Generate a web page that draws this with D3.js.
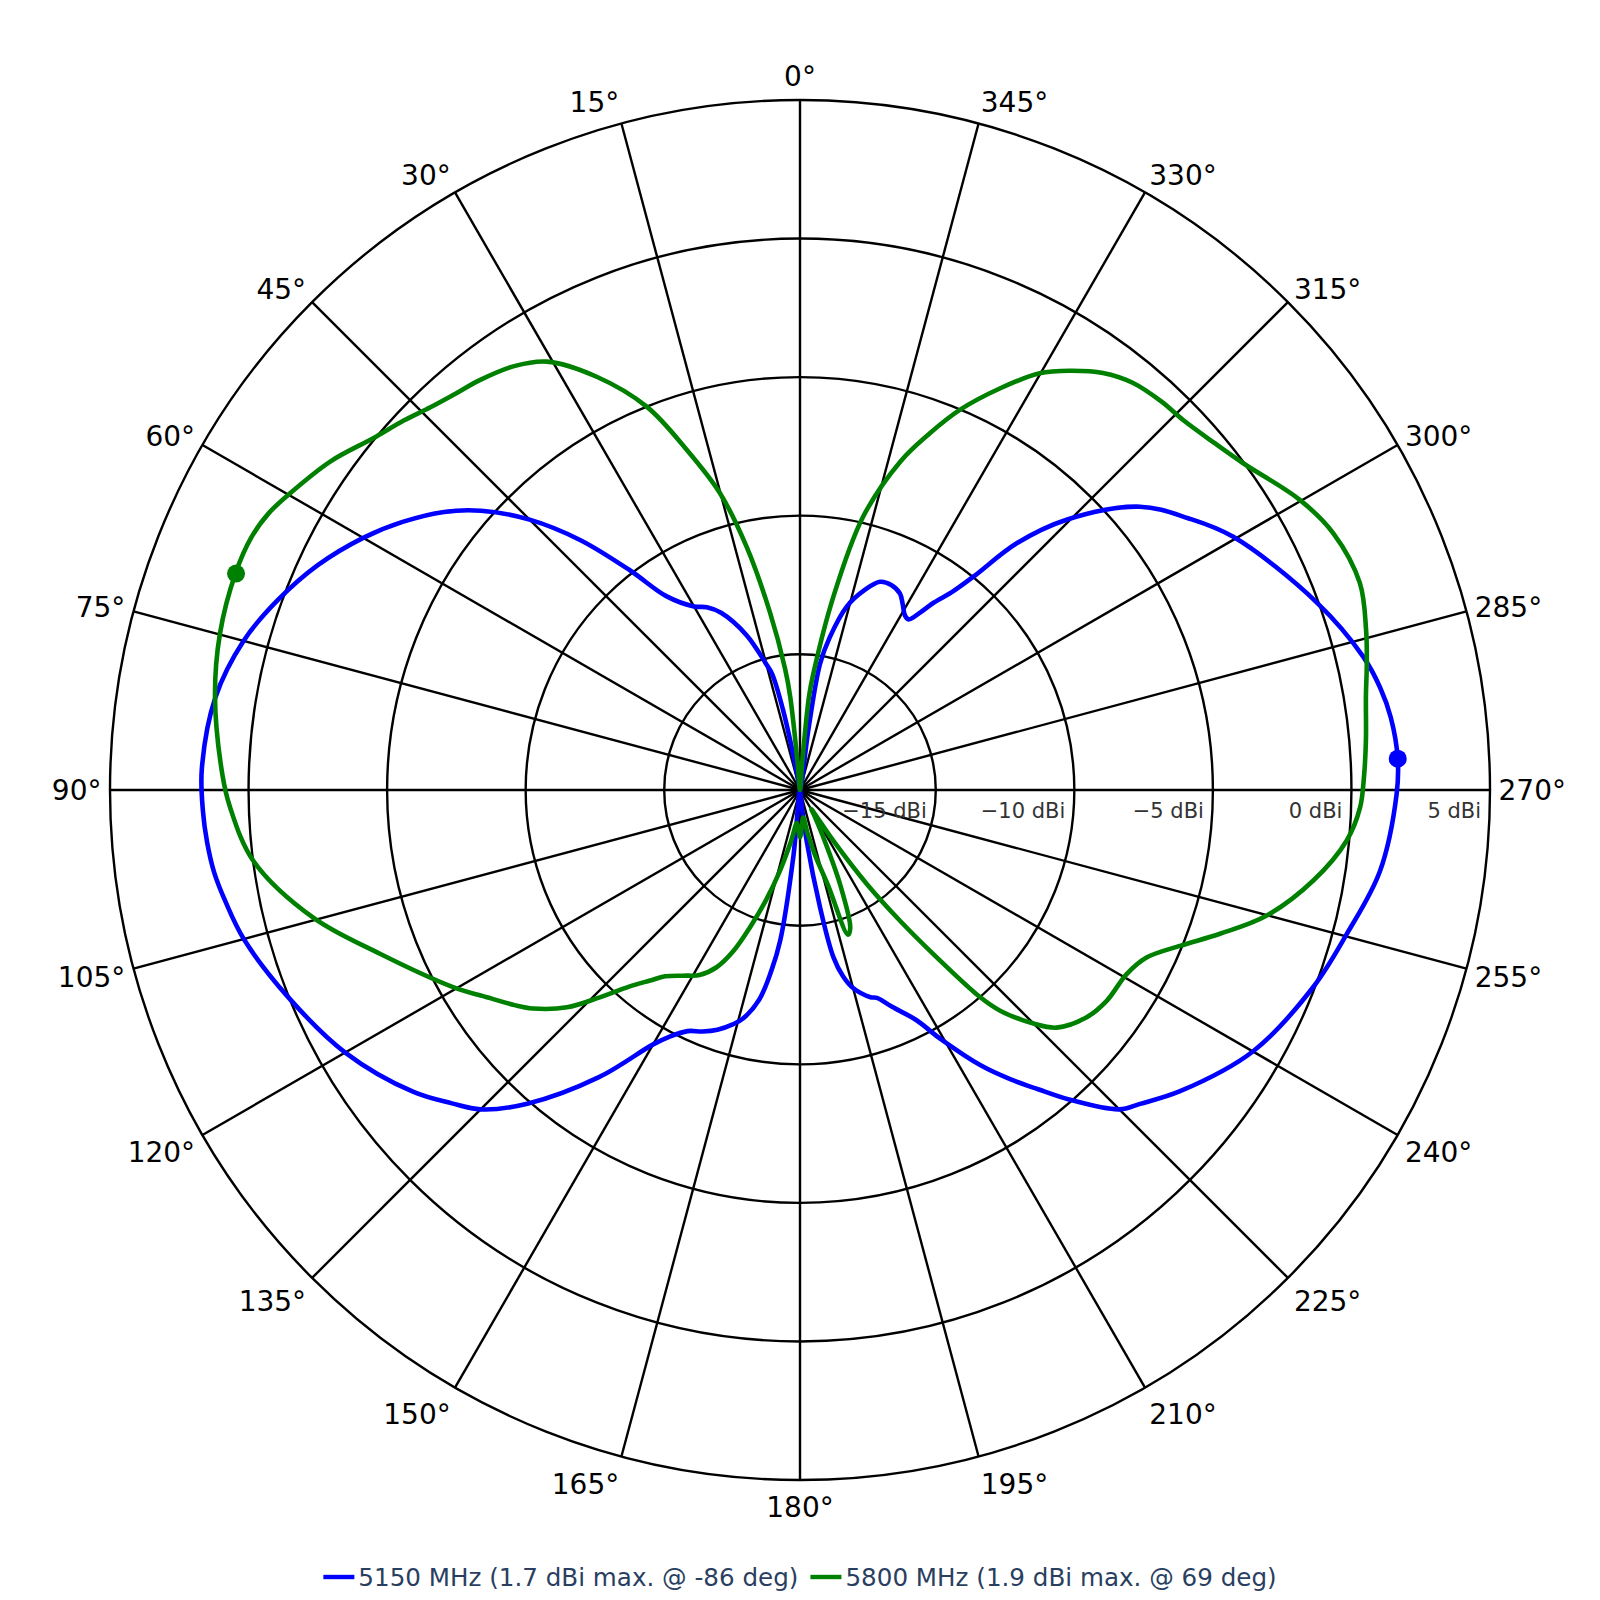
<!DOCTYPE html>
<html>
<head>
<meta charset="utf-8">
<script src="https://cdn.jsdelivr.net/npm/d3@7"></script>
<style>
  body { margin: 0; background: #fff; }
  #chart { width: 1600px; height: 1600px; }
  text { font-family: "DejaVu Sans", Verdana, sans-serif; }
</style>
</head>
<body>
<div id="chart"></div>
<script>
// angles are degrees counter-clockwise from the top, gains in dBi
const angleTicks = d3.range(0, 360, 15)
const gainTicks = [-15, -10, -5, 0, 5]
const gainRange = [-19.9, 5]

const seriesNames = ['5150 MHz (1.7 dBi max. @ -86 deg)', '5800 MHz (1.9 dBi max. @ 69 deg)']
const seriesColors = ['#0000ff', '#008000']

const blueTheta = [0, 10, 11, 12, 13.5, 15, 19, 24, 27, 30, 34.6, 37.7, 41.3, 45, 48.8, 52, 56, 60, 65, 70,
  75, 81, 88, 92, 95, 98, 101, 105, 112, 120, 128, 132, 135, 139, 145, 150, 152, 155, 158, 161,
  164, 166, 169, 171, 172.5, 174.3, 180, 186, 187.5, 189.7, 191.3, 193, 195, 198.8, 200.3, 203, 206.8, 209.4, 213.3, 216,
  218.5, 221, 225, 227.3, 231.6, 240, 249, 255.2, 262, 269.6, 273, 277, 280, 283.3, 290, 300.3, 305, 309.8, 315.4, 318.7,
  320.9, 322.5, 324.5, 326, 327.5, 329, 331, 333, 336, 339, 342, 345.7, 349, 351, 352.1]
const blueGain = [-19.9, -19.6, -18.4, -16.9, -15.6, -15.2, -14.0, -12.9, -12.5, -12.25, -11.4, -9.9, -7.9, -6.1, -4.6, -3.6, -2.6, -1.7, -0.7, 0.15,
  0.89, 1.46, 1.70, 1.66, 1.58, 1.45, 1.22, 0.88, 0.03, -0.95, -2.2, -3.0, -3.6, -4.9, -7.25, -9.3, -9.8, -10.3, -10.5, -10.75,
  -11.1, -11.4, -12.2, -13.3, -14.4, -17.5, -19.9, -19.5, -18.0, -15.6, -13.75, -13.0, -12.5, -12.0, -11.9, -11.4, -10.6, -9.6, -8.0, -7.0,
  -6.1, -5.1, -3.6, -3.2, -2.4, -1.03, -0.06, 0.5, 1.23, 1.63, 1.70, 1.58, 1.36, 0.99, -0.07, -1.79, -2.8, -3.93, -6.2, -8.05,
  -9.98, -10.9, -11.6, -12.2, -12.6, -12.55, -12.25, -11.95, -11.8, -11.85, -12.3, -13.07, -14.3, -15.3, -17.7]

const greenTheta = [0, 5, 6, 7, 9.6, 12.4, 15.1, 18.4, 21.8, 26.2, 30.6, 34, 38, 41, 44, 47, 50.5, 55, 59.8, 62.5,
  65.3, 69, 74.9, 80.9, 88.5, 91.7, 97.4, 104.7, 111.3, 119.6, 124, 127, 129.3, 133, 136, 139, 141.8, 144.1, 148.6, 151.5,
  154.8, 157.5, 160, 163, 166.1, 170, 174.5, 177, 180, 183, 186.5, 190, 193, 196.4, 198.3, 200, 203, 206, 209, 210.8,
  212, 213.3, 215.4, 217.4, 219.1, 221, 222.2, 225, 227.2, 231.6, 235.5, 240.6, 244.2, 247.7, 251.1, 254.9, 260, 264.7, 268.2, 271.4,
  275, 279.4, 282.5, 285.8, 290.3, 295.7, 300.1, 306.4, 310, 314, 317, 320.7, 324, 327.2, 330.1, 333.5, 337.2, 340, 343, 347,
  350.2, 353.5, 354.5, 355.5]
const greenGain = [-19.9, -19.0, -16.5, -15.5, -13.4, -10.9, -8.8, -6.97, -5.0, -3.28, -1.94, -1.45, -1.13, -0.95, -0.7, -0.35, 0.06, 0.78, 1.39, 1.72,
  1.9, 1.92, 1.78, 1.48, 0.95, 0.68, -0.01, -1.74, -3.63, -5.5, -6.45, -7.0, -7.45, -8.4, -9.5, -10.5, -11.15, -11.6, -12.05, -12.3,
  -12.83, -13.6, -14.63, -15.8, -16.9, -18.0, -18.7, -18.5, -18.2, -18.6, -18.9, -18.3, -17.5, -16.3, -14.4, -14.6, -16.2, -17.9, -18.8, -19.1,
  -18.8, -17.7, -15.74, -13.96, -12.27, -10.0, -9.15, -7.98, -7.28, -6.7, -6.47, -6.37, -6.01, -5.08, -3.88, -2.47, -1.09, -0.09, 0.32, 0.46,
  0.6, 0.8, 1.05, 1.33, 1.64, 1.46, 0.96, -0.03, -0.4, -0.68, -0.75, -0.92, -1.3, -1.9, -2.55, -3.7, -5.02, -6.2, -7.5, -9.78,
  -12.82, -15.7, -16.5, -19.0]

const peakTheta = [-87, 69]
const peakGain = [1.7, 1.9]

const width = 1600
const height = 1600
const cx = 800
const cy = 790
const radius = 690

const svg = d3.select('#chart').append('svg')
  .attr('width', width).attr('height', height)
  .style('background', '#fff')

const g = svg.append('g').attr('transform', `translate(${cx},${cy})`)

const r = d3.scaleLinear().domain(gainRange).range([0, radius]).clamp(true)
// d3 measures angles clockwise, the chart runs counter-clockwise
const toRad = deg => -deg * Math.PI / 180

// spokes
g.selectAll('.spoke')
  .data(angleTicks)
  .enter()
  .append('line')
  .attr('class', 'spoke')
  .attr('x1', 0).attr('y1', 0)
  .attr('x2', d => radius * Math.sin(toRad(d)))
  .attr('y2', d => -radius * Math.cos(toRad(d)))
  .attr('stroke', '#000').attr('stroke-width', 2.4)

// rings
g.selectAll('.ring')
  .data(gainTicks)
  .enter()
  .append('circle')
  .attr('class', 'ring')
  .attr('r', d => r(d))
  .attr('fill', 'none')
  .attr('stroke', '#000').attr('stroke-width', 2.4)

// radial tick labels, along the 270 deg direction
g.selectAll('.rlabel')
  .data(gainTicks)
  .enter()
  .append('text')
  .attr('class', 'rlabel')
  .attr('x', d => r(d) - 9)
  .attr('y', 28)
  .attr('text-anchor', 'end')
  .style('font-size', '21px')
  .style('fill', '#333')
  .text(d => (d < 0 ? '\u2212' + Math.abs(d) : d) + ' dBi')

// angular tick labels
const pad = 8.5
const fs = 28
g.selectAll('.alabel')
  .data(angleTicks)
  .enter()
  .append('text')
  .attr('class', 'alabel')
  .each(function(d) {
    const a = (d + 90) * Math.PI / 180
    const c = Math.cos(a)
    const s = Math.sin(a)
    const px = radius * c
    const py = -radius * s
    const ff = s > 0 ? 0.2 : 1
    d3.select(this)
      .attr('x', px + c * pad)
      .attr('y', py - s * (pad + fs * ff) + Math.abs(c) * fs * 0.35)
      .attr('text-anchor', Math.abs(c) < 0.1 ? 'middle' : (c > 0 ? 'start' : 'end'))
  })
  .style('font-size', fs + 'px')
  .style('fill', '#000')
  .text(d => d + '\u00b0')

// traces
const series = [
  d3.zip(blueTheta, blueGain),
  d3.zip(greenTheta, greenGain)
]

const line = d3.lineRadial()
  .angle(d => toRad(d[0]))
  .radius(d => r(d[1]))
  .curve(d3.curveCatmullRomClosed.alpha(0.5))

g.selectAll('.trace')
  .data(series)
  .enter()
  .append('path')
  .attr('class', 'trace')
  .attr('d', d => line(d))
  .attr('fill', 'none')
  .attr('stroke', (d, i) => seriesColors[i])
  .attr('stroke-width', 4.6)
  .attr('stroke-linejoin', 'round')

// maximum markers
g.selectAll('.peak')
  .data(d3.zip(peakTheta, peakGain))
  .enter()
  .append('circle')
  .attr('class', 'peak')
  .attr('cx', d => r(d[1]) * Math.sin(toRad(d[0])))
  .attr('cy', d => -r(d[1]) * Math.cos(toRad(d[0])))
  .attr('r', 9)
  .attr('fill', (d, i) => seriesColors[i])

// legend, centred under the chart
const legend = svg.append('g')
const legendY = 1577
let lx = 0
seriesNames.forEach((name, i) => {
  legend.append('line')
    .attr('x1', lx).attr('x2', lx + 31)
    .attr('y1', legendY).attr('y2', legendY)
    .attr('stroke', seriesColors[i]).attr('stroke-width', 4.4)
  const t = legend.append('text')
    .attr('x', lx + 35)
    .attr('y', legendY + 8.5)
    .style('font-size', '24.6px')
    .style('fill', '#2a3f5f')
    .text(name)
  lx += 35 + t.node().getComputedTextLength() + 12
})
legend.attr('transform', `translate(${cx - (lx - 12) / 2},0)`)
</script>
</body>
</html>
